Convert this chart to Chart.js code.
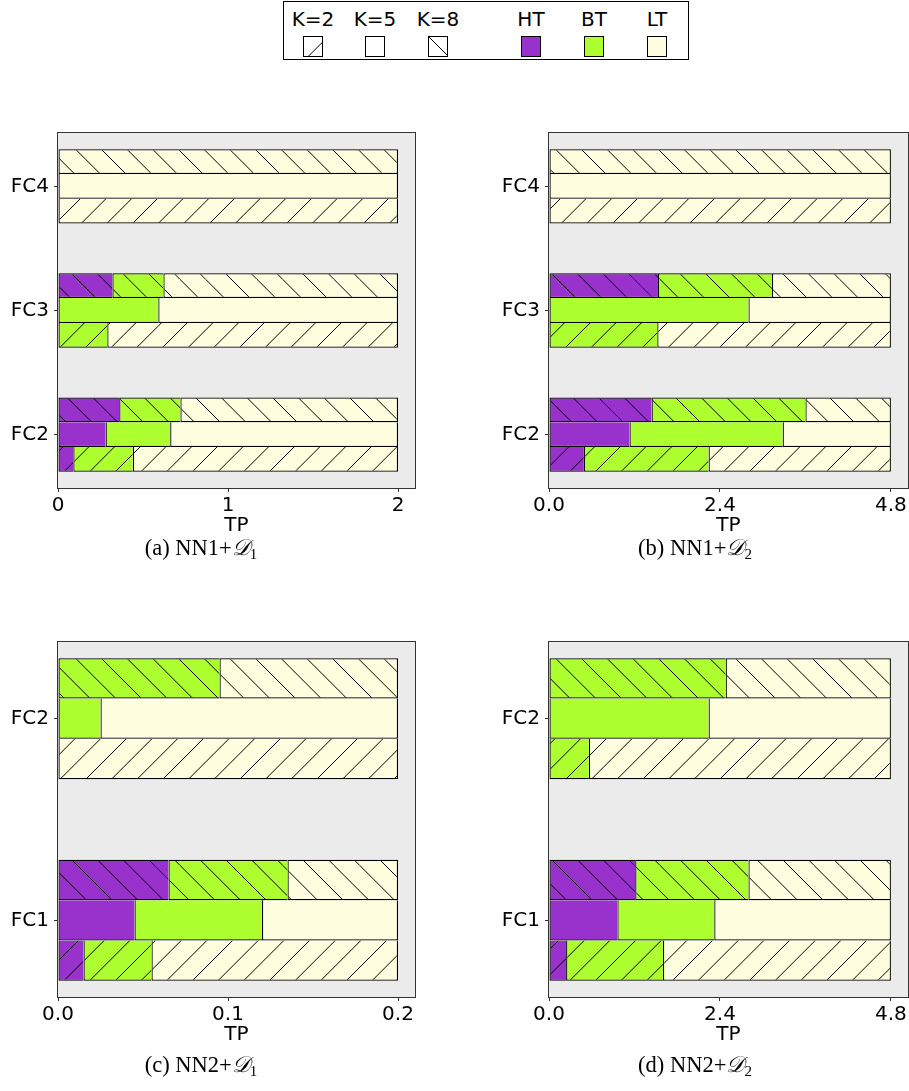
<!DOCTYPE html>
<html><head><meta charset="utf-8">
<script src="https://cdn.jsdelivr.net/npm/chart.js@4/dist/chart.umd.min.js"></script>
<style>
html,body{margin:0;padding:0;background:#fff;width:909px;height:1091px;overflow:hidden;position:relative;font-family:'DejaVu Sans';}
canvas.panel{position:absolute;}
.legend{position:absolute;left:283px;top:1px;width:406px;height:59px;border:1.3px solid #000;box-sizing:border-box;}
.lg{position:absolute;font:20px 'DejaVu Sans';line-height:20px;color:#000;transform:translateX(-50%);white-space:nowrap;top:9px;}
canvas.sw{position:absolute;top:36px;}
.cap{position:absolute;font:22.5px 'Liberation Serif';color:#000;transform:translate(-50%,-50%);white-space:nowrap;}
.cal{font-family:'DejaVu Serif','DejaVu Sans',serif;font-style:italic;}
.cap sub{font-size:15px;vertical-align:-4px;}
</style></head><body>
<div class="legend"></div>
<canvas class="panel" id="pa" width="440" height="420" style="left:0;top:125px"></canvas>
<canvas class="panel" id="pb" width="429" height="420" style="left:480px;top:125px"></canvas>
<canvas class="panel" id="pc" width="440" height="420" style="left:0;top:634px"></canvas>
<canvas class="panel" id="pd" width="429" height="420" style="left:480px;top:634px"></canvas>
<div class="cap" style="left:201px;top:548px">(a) NN1+<span class="cal">𝒟</span><sub>1</sub></div>
<div class="cap" style="left:695px;top:548px">(b) NN1+<span class="cal">𝒟</span><sub>2</sub></div>
<div class="cap" style="left:201px;top:1065px">(c) NN2+<span class="cal">𝒟</span><sub>1</sub></div>
<div class="cap" style="left:695px;top:1065px">(d) NN2+<span class="cal">𝒟</span><sub>2</sub></div>
<script>
// ---- categories / labels ----
const catsAB = ['FC2', 'FC3', 'FC4'];
const catsCD = ['FC1', 'FC2'];
const kLabels = ['K=2', 'K=5', 'K=8'];
const seriesLabels = ['HT', 'BT', 'LT'];
const seriesColors = ['#9932CC', '#ADFF2F', '#FFFFE0'];
const kHatch = ['/', '', '\\'];

// ---- x tick values / labels ----
const ticksA = [0, 1, 2];          const tickLabelsA = ['0', '1', '2'];
const ticksB = [0, 2.4, 4.8];      const tickLabelsB = ['0.0', '2.4', '4.8'];
const ticksC = [0, 0.1, 0.2];      const tickLabelsC = ['0.0', '0.1', '0.2'];
const ticksD = [0, 2.4, 4.8];      const tickLabelsD = ['0.0', '2.4', '4.8'];

// ---- (a) NN1+D1, categories FC2, FC3, FC4 ----
const a_K2_HT = [0.09, 0, 0];    const a_K2_BT = [0.35, 0.29, 0];  const a_K2_LT = [1.56, 1.71, 2.0];
const a_K5_HT = [0.28, 0, 0];    const a_K5_BT = [0.38, 0.59, 0];  const a_K5_LT = [1.34, 1.41, 2.0];
const a_K8_HT = [0.36, 0.32, 0]; const a_K8_BT = [0.36, 0.30, 0];  const a_K8_LT = [1.28, 1.38, 2.0];

// ---- (b) NN1+D2 ----
const b_K2_HT = [0.49, 0, 0];    const b_K2_BT = [1.75, 1.52, 0];  const b_K2_LT = [2.56, 3.28, 4.8];
const b_K5_HT = [1.13, 0, 0];    const b_K5_BT = [2.15, 2.80, 0];  const b_K5_LT = [1.52, 2.00, 4.8];
const b_K8_HT = [1.44, 1.53, 0]; const b_K8_BT = [2.16, 1.60, 0];  const b_K8_LT = [1.20, 1.67, 4.8];

// ---- (c) NN2+D1, categories FC1, FC2 ----
const c_K2_HT = [0.015, 0]; const c_K2_BT = [0.040, 0];     const c_K2_LT = [0.145, 0.2];
const c_K5_HT = [0.045, 0]; const c_K5_BT = [0.075, 0.025]; const c_K5_LT = [0.080, 0.175];
const c_K8_HT = [0.065, 0]; const c_K8_BT = [0.070, 0.095]; const c_K8_LT = [0.065, 0.105];

// ---- (d) NN2+D2 ----
const d_K2_HT = [0.24, 0]; const d_K2_BT = [1.36, 0.56]; const d_K2_LT = [3.20, 4.24];
const d_K5_HT = [0.96, 0]; const d_K5_BT = [1.36, 2.24]; const d_K5_LT = [2.48, 2.56];
const d_K8_HT = [1.21, 0]; const d_K8_BT = [1.59, 2.48]; const d_K8_LT = [2.00, 2.32];

Chart.defaults.font.family = 'DejaVu Sans';
Chart.defaults.font.size = 20;
Chart.defaults.color = '#000';

function makePattern(color, hatch) {
  if (!hatch) return color;
  const T = 77, step = T / 3;
  const c = document.createElement('canvas');
  c.width = T; c.height = T;
  const g = c.getContext('2d');
  g.fillStyle = color; g.fillRect(0, 0, T, T);
  g.strokeStyle = '#000'; g.lineWidth = 1;
  g.beginPath();
  if (hatch === '/') {
    for (let k = -1; k <= 7; k++) { const s = k * step; g.moveTo(s, 0); g.lineTo(s - T, T); }
  } else {
    for (let k = -4; k <= 4; k++) { const s = k * step; g.moveTo(s, 0); g.lineTo(s + T, T); }
  }
  g.stroke();
  return g.createPattern(c, 'repeat');
}

const bgPlugin = {
  id: 'bgframe',
  beforeDraw(chart) {
    const {ctx, chartArea: a} = chart;
    ctx.save(); ctx.fillStyle = '#EBEBEB';
    ctx.fillRect(a.left, a.top, a.right - a.left, a.bottom - a.top); ctx.restore();
  },
  afterDraw(chart) {
    const {ctx, chartArea: a} = chart;
    ctx.save(); ctx.strokeStyle = '#333'; ctx.lineWidth = 1;
    ctx.strokeRect(Math.round(a.left) - 0.5, Math.round(a.top) - 0.5, Math.round(a.right - a.left) + 1, Math.round(a.bottom - a.top) + 1);
    ctx.restore();
  }
};

function buildPanel(id, cats, series, xTicks, xTickLabels, xMax, yw, padRight) {
  const datasets = [];
  const order = [['K8', 2], ['K5', 1], ['K2', 0]]; // top to bottom within group
  const bwv = 1.25;
  order.forEach(([key, ki]) => {
    series[key].forEach((arr, si) => {
      const bw = {left: bwv, right: si === 2 ? bwv : 0, top: ki === 2 ? bwv : 0, bottom: bwv};
      datasets.push({
        label: kLabels[ki] + ' ' + seriesLabels[si],
        stack: key,
        data: cats.map((c, i) => ({x: arr[i], y: i})),
        backgroundColor: makePattern(seriesColors[si], kHatch[ki]),
        borderColor: '#000',
        borderWidth: bw
      });
    });
  });
  const n = cats.length;
  const pad = 0.05 * (n - 1 + 0.6);
  new Chart(document.getElementById(id), {
    type: 'bar',
    data: {datasets},
    options: {
      indexAxis: 'y', responsive: false, animation: false, devicePixelRatio: 1,
      layout: {padding: {top: 8, right: padRight, left: 0, bottom: 0}},
      plugins: {legend: {display: false}, tooltip: {enabled: false}},
      datasets: {bar: {categoryPercentage: 0.6, barPercentage: 1.0, borderSkipped: false, inflateAmount: 0}},
      scales: {
        x: {
          type: 'linear', stacked: true, min: 0, max: xMax,
          afterBuildTicks: ax => { ax.ticks = xTicks.map(v => ({value: v})); },
          afterFit: ax => { ax.height = 57; ax.paddingLeft = 0; ax.paddingRight = 0; },
          ticks: {callback: (v, i) => xTickLabels[i], padding: 2, maxRotation: 0, autoSkip: false, color: '#000'},
          grid: {drawOnChartArea: false, tickLength: 4, color: '#333', offset: false},
          border: {display: false},
          title: {display: true, text: 'TP', color: '#000', font: {size: 20}, padding: {top: 0, bottom: 7}}
        },
        y: {
          type: 'linear', offset: false, min: -0.3 - pad, max: n - 1 + 0.3 + pad,
          afterBuildTicks: ax => { ax.ticks = cats.map((c, i) => ({value: i})); },
          afterFit: ax => { ax.width = yw; ax.paddingTop = 0; ax.paddingBottom = 0; },
          ticks: {callback: (v, i) => cats[i], padding: 5, autoSkip: false, color: '#000'},
          grid: {drawOnChartArea: false, tickLength: 4, color: '#333', offset: false},
          border: {display: false}
        }
      }
    },
    plugins: [bgPlugin]
  });
}

buildPanel('pa', catsAB, {K2: [a_K2_HT, a_K2_BT, a_K2_LT], K5: [a_K5_HT, a_K5_BT, a_K5_LT], K8: [a_K8_HT, a_K8_BT, a_K8_LT]}, ticksA, tickLabelsA, 2.1, 58, 25);
buildPanel('pb', catsAB, {K2: [b_K2_HT, b_K2_BT, b_K2_LT], K5: [b_K5_HT, b_K5_BT, b_K5_LT], K8: [b_K8_HT, b_K8_BT, b_K8_LT]}, ticksB, tickLabelsB, 5.04, 69, 1);
buildPanel('pc', catsCD, {K2: [c_K2_HT, c_K2_BT, c_K2_LT], K5: [c_K5_HT, c_K5_BT, c_K5_LT], K8: [c_K8_HT, c_K8_BT, c_K8_LT]}, ticksC, tickLabelsC, 0.21, 58, 25);
buildPanel('pd', catsCD, {K2: [d_K2_HT, d_K2_BT, d_K2_LT], K5: [d_K5_HT, d_K5_BT, d_K5_LT], K8: [d_K8_HT, d_K8_BT, d_K8_LT]}, ticksD, tickLabelsD, 5.04, 69, 1);

// ---- legend (HTML text + small swatches) ----
const legendItems = [
  {text: kLabels[0], cx: 313, color: '#FFFFFF', hatch: '/'},
  {text: kLabels[1], cx: 375, color: '#FFFFFF', hatch: ''},
  {text: kLabels[2], cx: 438, color: '#FFFFFF', hatch: '\\'},
  {text: seriesLabels[0], cx: 531, color: seriesColors[0], hatch: ''},
  {text: seriesLabels[1], cx: 594, color: seriesColors[1], hatch: ''},
  {text: seriesLabels[2], cx: 657, color: seriesColors[2], hatch: ''}
];
legendItems.forEach(it => {
  const d = document.createElement('div');
  d.className = 'lg'; d.textContent = it.text; d.style.left = it.cx + 'px';
  document.body.appendChild(d);
  const c = document.createElement('canvas');
  c.className = 'sw'; c.width = 20; c.height = 21; c.style.left = (it.cx - 10) + 'px';
  document.body.appendChild(c);
  const g = c.getContext('2d');
  g.fillStyle = makePattern(it.color, it.hatch);
  g.fillRect(0, 0, 20, 21);
  g.strokeStyle = '#000'; g.lineWidth = 1; g.strokeRect(0.5, 0.5, 19, 20);
});
</script>
</body></html>
